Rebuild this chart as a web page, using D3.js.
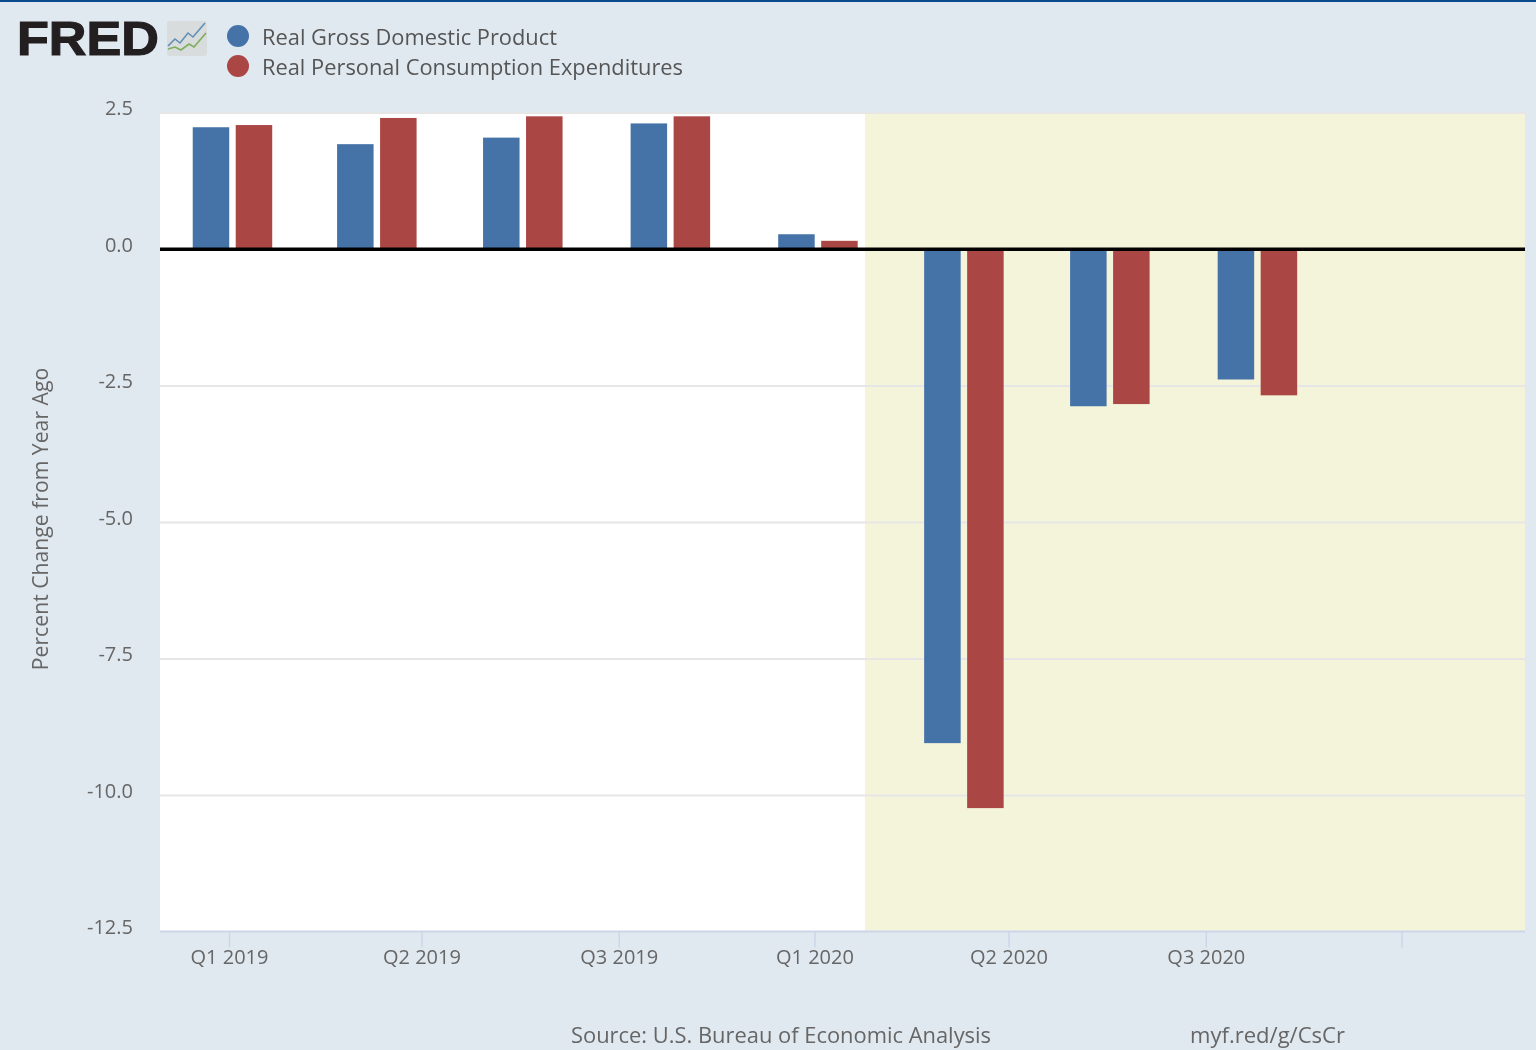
<!DOCTYPE html>
<meta charset="utf-8">
<head>
<style>
html, body { margin: 0; padding: 0; background: #e1e9f0; }
svg { display: block; filter: blur(0.45px); }
text { font-family: "Open Sans", sans-serif; fill: #666; }
.axis path { display: none; }
.yaxis line { stroke: #e6e6e6; stroke-width: 2px; }
.yaxis text { font-size: 20px; }
.xaxis line { stroke: #ccd6eb; stroke-width: 1.5px; }
.xaxis text { font-size: 20px; }
.legend text { font-size: 22.5px; fill: #555; }
</style>
<script src="https://d3js.org/d3.v7.min.js"></script>
</head>

<body>
<svg width="1536" height="1050"></svg>
<script>

var quarters = ["2019-01-01", "2019-04-01", "2019-07-01", "2019-10-01", "2020-01-01", "2020-04-01", "2020-07-01", "2020-10-01"];
var gdpValues = [2.23, 1.92, 2.04, 2.30, 0.27, -9.05, -2.88, -2.39];
var pceValues = [2.27, 2.40, 2.43, 2.43, 0.15, -10.24, -2.84, -2.68];

var seriesNames = ["Real Gross Domestic Product", "Real Personal Consumption Expenditures"];
var seriesColors = ["#4572a7", "#aa4643"];

var yTicks = [2.5, 0, -2.5, -5, -7.5, -10, -12.5];
var xTickDates = ["2019-01-01", "2019-05-01", "2019-09-01", "2020-01-01", "2020-05-01", "2020-09-01", "2021-01-01"];
var xTickLabels = ["Q1 2019", "Q2 2019", "Q3 2019", "Q1 2020", "Q2 2020", "Q3 2020", ""];

var recessionStart = "2020-02-01";
var domainStart = "2018-11-19";
var domainEnd = "2021-03-19";

var svg = d3.select("svg");
var left = 160, right = 1525, top_ = 112.5, bottom = 931.5;
var barWidth = 36.5;

var parse = d3.utcParse("%Y-%m-%d");

var x = d3.scaleUtc()
    .domain([parse(domainStart), parse(domainEnd)])
    .range([left, right]);

var y = d3.scaleLinear()
    .domain([2.5, -12.5])
    .range([top_, bottom]);

// top strip
svg.append("rect").attr("width", 1536).attr("height", 2).attr("fill", "#0b4a8f");

// plot background + recession band
svg.append("rect")
    .attr("x", left).attr("y", top_)
    .attr("width", right - left).attr("height", bottom - top_)
    .attr("fill", "#fff");
svg.append("rect")
    .attr("x", x(parse(recessionStart)) + 0.7).attr("y", top_)
    .attr("width", right - x(parse(recessionStart)) - 0.7).attr("height", bottom - top_)
    .attr("fill", "#f4f4da");

// y axis, gridlines are the ticks
var yAxis = svg.append("g")
    .attr("class", "axis yaxis")
    .attr("transform", "translate(" + left + ",0)")
    .call(d3.axisLeft(y)
        .tickValues(yTicks)
        .tickSize(-(right - left))
        .tickPadding(27)
        .tickFormat(function(d) { return d.toFixed(1); }));
yAxis.selectAll("text").attr("dy", "0.12em");
yAxis.select(".domain").remove();

// x axis
var xAxis = svg.append("g")
    .attr("class", "axis xaxis")
    .attr("transform", "translate(0," + bottom + ")")
    .call(d3.axisBottom(x)
        .tickValues(xTickDates.map(parse))
        .tickSize(16)
        .tickPadding(0)
        .tickFormat(function(d, i) { return xTickLabels[i]; }));
xAxis.selectAll("text").attr("y", 18.5);
xAxis.select(".domain").remove();
svg.append("line")
    .attr("x1", left).attr("x2", right)
    .attr("y1", bottom).attr("y2", bottom)
    .attr("stroke", "#ccd6eb").attr("stroke-width", 2);

// bars
var rows = quarters.map(function(q, i) {
  return { date: parse(q), values: [gdpValues[i], pceValues[i]] };
});

var groups = svg.selectAll(".quarter")
    .data(rows)
    .enter().append("g")
      .attr("class", "quarter")
      .attr("transform", function(d) { return "translate(" + (x(d.date) + 3.5) + ",0)"; });

groups.selectAll("rect")
    .data(function(d) { return d.values; })
    .enter().append("rect")
      .attr("x", function(d, i) { return i == 0 ? -21.5 - barWidth / 2 : 21.5 - barWidth / 2; })
      .attr("y", function(d) { return Math.min(y(d), y(0)); })
      .attr("width", barWidth)
      .attr("height", function(d) { return Math.abs(y(d) - y(0)); })
      .attr("fill", function(d, i) { return seriesColors[i]; });

// zero line
svg.append("line")
    .attr("x1", left).attr("x2", right)
    .attr("y1", y(0) + 0.3).attr("y2", y(0) + 0.3)
    .attr("stroke", "#000").attr("stroke-width", 3.5);

// y axis title
svg.append("text")
    .attr("transform", "translate(48,519) rotate(-90)")
    .attr("text-anchor", "middle")
    .style("font-size", "21.2px")
    .text("Percent Change from Year Ago");

// legend
var legend = svg.append("g").attr("class", "legend");
var legendRows = legend.selectAll("g")
    .data(seriesNames)
    .enter().append("g")
      .attr("transform", function(d, i) { return "translate(0," + (36 + i * 30) + ")"; });
legendRows.append("circle")
    .attr("cx", 238).attr("cy", 0).attr("r", 11)
    .attr("fill", function(d, i) { return seriesColors[i]; });
legendRows.append("text")
    .attr("x", 262).attr("y", 9)
    .attr("textLength", function(d, i) { return i == 0 ? 295 : 421; })
    .attr("lengthAdjust", "spacingAndGlyphs")
    .text(function(d) { return d; });

// logo
svg.append("text")
    .attr("x", 17).attr("y", 55)
    .attr("textLength", 142)
    .attr("lengthAdjust", "spacingAndGlyphs")
    .style("font-family", "'Liberation Sans', sans-serif")
    .style("font-weight", "bold")
    .style("font-size", "49px")
    .style("fill", "#231f20")
    .style("stroke", "#231f20")
    .style("stroke-width", "1.2px")
    .text("FRED");
svg.append("rect")
    .attr("x", 167).attr("y", 21).attr("width", 40).attr("height", 35)
    .attr("rx", 3).attr("fill", "#d8dcdc");
svg.append("path")
    .attr("d", "M168,46L175,39L180,43L188,33L193,37L205,23")
    .attr("fill", "none").attr("stroke", "#5f8fb5").attr("stroke-width", 1.6);
svg.append("path")
    .attr("d", "M168,49L175,47L181,50L189,44L194,47L206,33")
    .attr("fill", "none").attr("stroke", "#7fae5c").attr("stroke-width", 1.6);

// footer
svg.append("text")
    .attr("x", 571).attr("y", 1043)
    .attr("textLength", 420).attr("lengthAdjust", "spacingAndGlyphs")
    .style("font-size", "21.5px")
    .text("Source: U.S. Bureau of Economic Analysis");
svg.append("text")
    .attr("x", 1190).attr("y", 1043)
    .attr("textLength", 155).attr("lengthAdjust", "spacingAndGlyphs")
    .style("font-size", "21.5px")
    .text("myf.red/g/CsCr");

</script>
</body>
